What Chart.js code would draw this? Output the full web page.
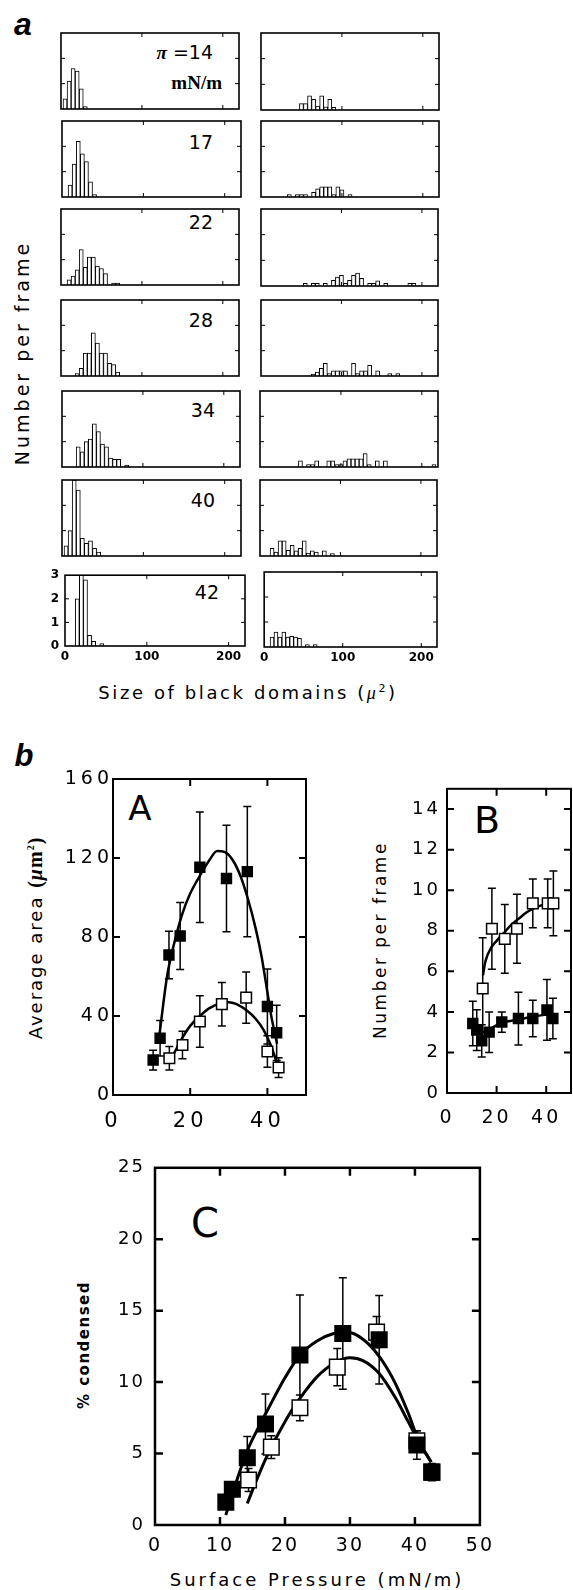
<!DOCTYPE html>
<html>
<head>
<meta charset="utf-8">
<title>Black domain sizes vs surface pressure</title>
<script src="https://cdn.jsdelivr.net/npm/chart.js@4.4.1/dist/chart.umd.min.js"></script>
<style>
  html, body { margin: 0; padding: 0; background: #fff; }
  body { position: relative; width: 573px; height: 1590px; overflow: hidden; color: #000;
         font-family: "DejaVu Sans", "Liberation Sans", sans-serif; }
  canvas { position: absolute; }
  .t { position: absolute; white-space: nowrap; line-height: 1; }
  .c { transform: translate(-50%, -50%); }
  .r { transform: translate(-100%, -50%); }
  .v { transform: translate(-50%, -50%) rotate(-90deg); }
  .num { font-size: 19px; }
</style>
</head>
<body>

<!-- panel letters -->
<div class="t c" style="left:23px;top:24px;font:italic bold 32px 'Liberation Sans'">a</div>
<div class="t c" style="left:24px;top:756px;font:italic bold 31px 'Liberation Sans'">b</div>

<!-- pressure labels of panel a -->
<div class="t r num" style="left:213px;top:53px"><span style="font:italic bold 19px 'Liberation Serif'">π</span> =14</div>
<div class="t r" style="left:222px;top:83px;font:bold 19px 'Liberation Serif'">mN/m</div>
<div class="t r num" style="left:213px;top:142px">17</div>
<div class="t r num" style="left:213px;top:222px">22</div>
<div class="t r num" style="left:213px;top:320px">28</div>
<div class="t r num" style="left:215px;top:410px">34</div>
<div class="t r num" style="left:215px;top:500px">40</div>
<div class="t r num" style="left:219px;top:592px">42</div>

<div class="t v" style="left:22px;top:353px;font-size:19px;letter-spacing:3px">Number per frame</div>
<div class="t c" style="left:248px;top:692px;font-size:18px;letter-spacing:2.6px">Size of black domains (<i style="font-family:'Liberation Serif'">μ</i><sup style="font-size:11px">2</sup>)</div>

<!-- panel b / c labels -->
<div class="t v" style="left:35px;top:938px;font-size:18px;letter-spacing:2px">Average area <span style="font:bold 20px 'Liberation Serif';letter-spacing:1px">(<i>μ</i>m<sup style="font-size:10px">2</sup>)</span></div>
<div class="t c" style="left:140px;top:808px;font-size:34px">A</div>
<div class="t v" style="left:380px;top:940px;font-size:17px;letter-spacing:2.5px">Number per frame</div>
<div class="t c" style="left:487px;top:820px;font-size:38px">B</div>
<div class="t v" style="left:84px;top:1345px;font-size:15px;font-weight:bold;letter-spacing:1.5px">% condensed</div>
<div class="t c" style="left:205px;top:1223px;font-size:40px">C</div>
<div class="t c" style="left:317px;top:1580px;font-size:18px;letter-spacing:3px">Surface Pressure (mN/m)</div>

<script>
// ---------- panel a : histograms (bin centres in µm², height = number per frame) ----------
const binCentres = [0, 5, 10, 15, 20, 25, 30, 35, 40, 45, 50, 55, 60, 65, 70, 75, 80, 85, 90, 95,
  100, 105, 110, 115, 120, 125, 130, 135, 140, 145, 150, 155, 160, 165, 170, 175, 180, 185, 190, 195,
  200, 205, 210, 215];
const histXTicks = [0, 100, 200];
const histYTicks = [0, 1, 2, 3];

// left column
const countsL14 = [0, 0.4, 1.1, 1.6, 1.5, 0.8, 0.1];
const countsL17 = [0, 0, 0.47, 1.3, 2.2, 1.7, 1.4, 0.6, 0.1];
const countsL22 = [0, 0, 0.2, 0.35, 0.6, 1.4, 0.7, 1.1, 1.1, 0.75, 0.65, 0.45, 0, 0.08, 0.08];
const countsL28 = [0, 0, 0, 0, 0.1, 0.3, 0.9, 0.9, 1.7, 1.3, 0.9, 0.9, 0.5, 0.45, 0.15];
const countsL34 = [0, 0, 0, 0, 0.8, 0.6, 1.0, 1.1, 1.7, 1.4, 0.9, 0.8, 0.35, 0.3, 0.3, 0, 0.08];
const countsL40 = [0, 0.4, 1.0, 3.0, 2.6, 0.7, 0.5, 0.6, 0.3, 0.15];
const countsL42 = [0, 0, 0, 2.0, 3.0, 2.8, 0.45, 0.2, 0, 0.1];

// right column
const countsR14 = [0, 0, 0, 0, 0, 0, 0, 0, 0, 0, 0.25, 0.25, 0.55, 0.42, 0.15, 0.55, 0.12, 0.42, 0.1];
const countsR17 = [0, 0, 0, 0, 0, 0, 0, 0.1, 0, 0.1, 0.1, 0.1, 0, 0.18, 0.32, 0.4, 0.4, 0.4, 0.1, 0.4,
  0.28, 0, 0.1];
const countsR22 = [0, 0, 0, 0, 0, 0, 0, 0, 0, 0, 0, 0.1, 0, 0.1, 0.1, 0, 0.1, 0, 0.22, 0.35,
  0.42, 0.1, 0.22, 0.42, 0.5, 0.3, 0, 0.1, 0.1, 0.2, 0, 0.1, 0, 0, 0, 0, 0, 0.1, 0.1];
const countsR28 = [0, 0, 0, 0, 0, 0, 0, 0, 0, 0, 0, 0, 0, 0.08, 0.15, 0.3, 0.5, 0.1, 0.2, 0.2,
  0.2, 0.2, 0, 0.5, 0.1, 0.2, 0.2, 0.42, 0, 0.2, 0, 0, 0.1, 0, 0.1];
const countsR34 = [0, 0, 0, 0, 0, 0, 0, 0, 0, 0, 0.24, 0, 0.1, 0.1, 0.24, 0, 0, 0.24, 0.24, 0.1,
  0.1, 0.24, 0.32, 0.32, 0.32, 0.32, 0.53, 0.1, 0, 0.24, 0, 0.24, 0, 0, 0, 0, 0, 0, 0, 0,
  0, 0, 0, 0.1];
const countsR40 = [0, 0, 0, 0.3, 0.15, 0.6, 0.6, 0.22, 0.42, 0.2, 0.3, 0.6, 0.12, 0.2, 0.15, 0, 0.2, 0, 0.1];
const countsR42 = [0, 0, 0.4, 0.6, 0.4, 0.6, 0.4, 0.43, 0.4, 0.35, 0, 0.1, 0, 0.1];

const leftCounts = [countsL14, countsL17, countsL22, countsL28, countsL34, countsL40, countsL42];
const rightCounts = [countsR14, countsR17, countsR22, countsR28, countsR34, countsR40, countsR42];

// ---------- panel b, A : average area (µm²) ----------
const areaFilledX = [10.4, 12.2, 14.5, 17.4, 22.5, 29.4, 34.8, 40.0, 42.4];
const areaFilledY = [17.7, 28.7, 70.9, 80.5, 115.3, 109.6, 113.1, 44.8, 31.5];
const areaFilledErr = [5, 9, 12, 17, 28, 27, 33, 19, 14];
const areaOpenX = [14.6, 18.0, 22.5, 28.2, 34.5, 40.0, 42.9];
const areaOpenY = [18.6, 25.3, 37.2, 46.0, 49.3, 22.0, 13.9];
const areaOpenErr = [6, 7, 13, 11, 13, 8, 5];
const areaFitFilledX = [12, 14, 16, 18, 20, 22.5, 25, 27, 29, 31, 33, 35, 37, 38.5, 40, 41, 42.5];
const areaFitFilledY = [30, 60, 78, 92, 102, 111, 119, 123.5, 123, 119, 111, 99, 84, 70, 52, 40, 26];
const areaFitOpenX = [15.5, 18, 20, 22.5, 25, 28, 30, 32, 34.5, 37, 39, 40.5, 42, 43];
const areaFitOpenY = [20, 29, 35, 40, 44, 46.5, 47, 46, 43, 38.5, 33, 27, 19, 12];

// ---------- panel b, B : number per frame ----------
const countOpenX = [14.4, 18.1, 23.3, 28.2, 34.6, 40.6, 42.9];
const countOpenY = [5.15, 8.1, 7.6, 8.1, 9.35, 9.35, 9.35];
const countOpenErr = [2.5, 2.0, 1.7, 1.7, 1.2, 1.2, 1.6];
const countFilledX = [10.4, 12.0, 14.0, 17.0, 22.1, 28.8, 34.6, 40.3, 42.7];
const countFilledY = [3.43, 3.1, 2.57, 3.0, 3.5, 3.67, 3.67, 4.1, 3.67];
const countFilledErr = [1.1, 1.0, 0.8, 1.0, 0.5, 1.3, 0.9, 1.5, 1.0];
const countFitOpenX = [14.5, 15.5, 18, 20, 23, 26, 29, 32, 35, 38, 42];
const countFitOpenY = [5.8, 6.5, 7.2, 7.5, 7.9, 8.3, 8.6, 8.9, 9.1, 9.25, 9.35];
const countFitFilledX = [12, 14, 16, 18, 22, 28, 34, 42];
const countFitFilledY = [3.2, 3.0, 3.05, 3.2, 3.45, 3.6, 3.75, 3.9];

// ---------- panel C : % condensed ----------
const condFilledX = [10.9, 11.9, 14.2, 17.0, 22.3, 28.9, 34.5, 40.3, 42.6];
const condFilledY = [1.6, 2.5, 4.7, 7.07, 11.9, 13.4, 12.96, 5.6, 3.7];
const condFilledErr = [0, 0, 1.5, 2.1, 4.2, 3.9, 3.1, 1.0, 0.6];
const condOpenX = [14.4, 17.9, 22.3, 28.05, 34.1, 40.3, 42.6];
const condOpenY = [3.15, 5.45, 8.2, 11.05, 13.5, 5.9, 3.7];
const condOpenErr = [0.8, 0.8, 0.9, 1.3, 1.1, 0.7, 0.5];
const condFitFilledX = [10.9, 12.5, 14.2, 16, 17.5, 20, 22.3, 25, 27.5, 29.5, 32, 34.5, 37, 39, 40.5, 42.5];
const condFitFilledY = [0.7, 3, 5.2, 6.9, 8.2, 10.3, 11.9, 12.9, 13.4, 13.5, 13.0, 11.8, 9.9, 7.8, 6.0, 4.4];
const condFitOpenX = [14.2, 15.5, 17, 19, 21, 23, 25, 27.5, 30, 32, 34.5, 37, 39, 40.5, 42.5];
const condFitOpenY = [1.5, 3.0, 4.6, 6.4, 8.0, 9.3, 10.4, 11.3, 11.7, 11.5, 10.6, 8.9, 7.2, 5.9, 4.4];

const pressureTicksAB = [0, 20, 40];
const areaTicks = [0, 40, 80, 120, 160];
const countTicks = [0, 2, 4, 6, 8, 10, 12, 14];
const pressureTicksC = [0, 10, 20, 30, 40, 50];
const condTicks = [0, 5, 10, 15, 20, 25];

// ---------- layout (page pixels: left, top, right, bottom of each plot frame) ----------
const leftBoxes = [[61, 33, 239, 109], [62, 121, 241, 197], [61, 209, 239, 285], [61, 300, 239, 376],
  [62, 391, 240, 467], [62, 480, 241, 556], [65, 572, 245, 646]];
const rightBoxes = [[261, 33, 439, 110], [261, 121, 439, 197], [261, 209, 438, 286], [261, 300, 438, 376],
  [260, 391, 438, 467], [260, 480, 437, 556], [260, 572, 437, 647]];

// ---------- plugins ----------
// frame with inward ticks on all four sides, plus letter spacing for tick labels
const framePlugin = {
  id: 'frame',
  beforeDraw(chart, args, opts) {
    chart.ctx.letterSpacing = (opts.spacing || 0) + 'px';
  },
  afterDraw(chart, args, opts) {
    const { ctx, chartArea: a, scales } = chart;
    ctx.save();
    ctx.letterSpacing = '0px';
    ctx.strokeStyle = '#000';
    ctx.lineWidth = opts.width || 1.5;
    ctx.strokeRect(a.left, a.top, a.right - a.left, a.bottom - a.top);
    const len = opts.tick || 4;
    ctx.lineWidth = opts.tickWidth || 1;
    ctx.beginPath();
    (opts.xTicks || []).forEach(v => {
      const x = scales.x.getPixelForValue(v);
      ctx.moveTo(x, a.top); ctx.lineTo(x, a.top + len);
      ctx.moveTo(x, a.bottom); ctx.lineTo(x, a.bottom - len);
    });
    (opts.yTicks || []).forEach(v => {
      const y = scales.y.getPixelForValue(v);
      ctx.moveTo(a.left, y); ctx.lineTo(a.left + len, y);
      ctx.moveTo(a.right, y); ctx.lineTo(a.right - len, y);
    });
    ctx.stroke();
    ctx.restore();
  }
};

// vertical error bars with caps, drawn under the markers
const errorBarPlugin = {
  id: 'errorBars',
  beforeDatasetsDraw(chart) {
    const ctx = chart.ctx, yScale = chart.scales.y;
    chart.data.datasets.forEach((ds, i) => {
      if (!ds.errors) return;
      const meta = chart.getDatasetMeta(i);
      ctx.save();
      ctx.strokeStyle = '#000';
      ctx.lineWidth = ds.errorWidth || 1.5;
      const cap = ds.capHalf || 4;
      meta.data.forEach((el, j) => {
        const e = ds.errors[j];
        if (!e) return;
        const v = ds.data[j].y;
        const yt = yScale.getPixelForValue(v + e);
        const yb = yScale.getPixelForValue(v - e);
        ctx.beginPath();
        ctx.moveTo(el.x, yt); ctx.lineTo(el.x, yb);
        ctx.moveTo(el.x - cap, yt); ctx.lineTo(el.x + cap, yt);
        ctx.moveTo(el.x - cap, yb); ctx.lineTo(el.x + cap, yb);
        ctx.stroke();
      });
      ctx.restore();
    });
  }
};

// ---------- helpers ----------
const toPoints = (xs, ys) => xs.map((x, i) => ({ x, y: ys[i] }));

function axis(min, max, tickValues, show, size, font, pad, isX) {
  return {
    type: 'linear', min, max, offset: false,
    display: show,
    grid: { display: false, drawTicks: false, offset: false },
    border: { display: false },
    ticks: { font, color: '#000', padding: pad, maxRotation: 0, autoSkip: false },
    afterBuildTicks: s => { s.ticks = tickValues.map(v => ({ value: v })); },
    afterFit: s => {
      if (!show) return;
      if (isX) s.height = size; else s.width = size;
    }
  };
}

function plot(type, box, margin, xAxis, yAxis, datasets, frame) {
  const [x0, y0, x1, y1] = box;
  const [ml, mt, mr, mb] = margin;
  const w = x1 - x0 + ml + mr, h = y1 - y0 + mt + mb;
  const cv = document.createElement('canvas');
  cv.width = w; cv.height = h;
  cv.style.left = (x0 - ml) + 'px';
  cv.style.top = (y0 - mt) + 'px';
  cv.style.width = w + 'px';
  cv.style.height = h + 'px';
  document.body.appendChild(cv);
  const yw = yAxis.display ? yAxis.size : 0;
  const xh = xAxis.display ? xAxis.size : 0;
  return new Chart(cv.getContext('2d'), {
    type,
    data: { datasets },
    options: {
      responsive: false, animation: false, devicePixelRatio: 1,
      layout: { padding: { left: ml - yw, top: mt, right: mr, bottom: mb - xh } },
      plugins: { legend: { display: false }, tooltip: { enabled: false }, frame },
      scales: { x: xAxis.cfg, y: yAxis.cfg }
    },
    plugins: [framePlugin, errorBarPlugin]
  });
}

// ---------- panel a ----------
const histFont = { family: 'DejaVu Sans', size: 12, weight: 'bold' };

function histogram(box, counts, showX, showY) {
  const data = counts.map((c, i) => ({ x: binCentres[i], y: c }));
  const xA = { display: showX, size: 18, cfg: axis(0, 220, histXTicks, showX, 18, histFont, 4, true) };
  const yA = { display: showY, size: 20, cfg: axis(0, 3, histYTicks, showY, 20, histFont, 6, false) };
  plot('bar', box, [showY ? 26 : 4, 10, 4, showX ? 24 : 4], xA, yA, [{
    data,
    backgroundColor: '#fff',
    borderColor: '#000',
    borderWidth: 1,
    barPercentage: 1,
    categoryPercentage: 1,
    grouped: false
  }], { width: 1.6, tick: 4, xTicks: [100, 200], yTicks: [1, 2] });
}

leftCounts.forEach((c, i) => histogram(leftBoxes[i], c, i === 6, i === 6));
rightCounts.forEach((c, i) => histogram(rightBoxes[i], c, i === 6, false));

// ---------- panel b / c ----------
function markers(xs, ys, errs, filled, radius, cap) {
  return {
    data: toPoints(xs, ys),
    errors: errs,
    capHalf: cap,
    showLine: false,
    pointStyle: 'rect',
    pointRadius: radius,
    backgroundColor: filled ? '#000' : '#fff',
    borderColor: '#000',
    borderWidth: 1.5
  };
}

function fitLine(xs, ys, width) {
  return {
    data: toPoints(xs, ys),
    showLine: true,
    pointRadius: 0,
    borderColor: '#000',
    borderWidth: width,
    cubicInterpolationMode: 'monotone',
    fill: false
  };
}

const tickFontA = { family: 'DejaVu Sans', size: 19 };
const tickFontAx = { family: 'DejaVu Sans', size: 21 };

// A : average area
plot('scatter', [113, 779, 306, 1095], [64, 16, 12, 44],
  { display: true, size: 34, cfg: axis(0, 50, pressureTicksAB, true, 34, tickFontAx, 14, true) },
  { display: true, size: 60, cfg: axis(0, 160, areaTicks, true, 60, tickFontA, 0, false) },
  [
    markers(areaFilledX, areaFilledY, areaFilledErr, true, 7, 4),
    markers(areaOpenX, areaOpenY, areaOpenErr, false, 7.5, 4),
    fitLine(areaFitFilledX, areaFitFilledY, 2.5),
    fitLine(areaFitOpenX, areaFitOpenY, 2.5)
  ],
  { width: 2, tick: 7, tickWidth: 2, xTicks: [20, 40], yTicks: [40, 80, 120], spacing: 4 });

// B : number per frame
plot('scatter', [447, 788, 571, 1093], [64, 16, 10, 44],
  { display: true, size: 34, cfg: axis(0, 50, pressureTicksAB, true, 34, { family: 'DejaVu Sans', size: 19 }, 14, true) },
  { display: true, size: 60, cfg: axis(0, 15, countTicks, true, 60, { family: 'DejaVu Sans', size: 18 }, 6, false) },
  [
    markers(countFilledX, countFilledY, countFilledErr, true, 7, 4),
    markers(countOpenX, countOpenY, countOpenErr, false, 7.5, 4),
    fitLine(countFitFilledX, countFitFilledY, 2.5),
    fitLine(countFitOpenX, countFitOpenY, 2.5)
  ],
  { width: 2, tick: 7, tickWidth: 2, xTicks: [20, 40], yTicks: [2, 4, 6, 8, 10, 12, 14], spacing: 3 });

// C : % condensed
plot('scatter', [155, 1163, 482, 1525], [64, 16, 20, 40],
  { display: true, size: 32, cfg: axis(0, 50, pressureTicksC, true, 32, { family: 'DejaVu Sans', size: 19 }, 10, true) },
  { display: true, size: 60, cfg: axis(0, 25, condTicks, true, 60, { family: 'DejaVu Sans', size: 18 }, 10, false) },
  [
    markers(condFilledX, condFilledY, condFilledErr, true, 11, 4),
    markers(condOpenX, condOpenY, condOpenErr, false, 11, 4),
    fitLine(condFitFilledX, condFitFilledY, 3),
    fitLine(condFitOpenX, condFitOpenY, 3)
  ],
  { width: 2.5, tick: 8, tickWidth: 2.5, xTicks: [10, 20, 30, 40], yTicks: [5, 10, 15, 20], spacing: 2 });
</script>
</body>
</html>
